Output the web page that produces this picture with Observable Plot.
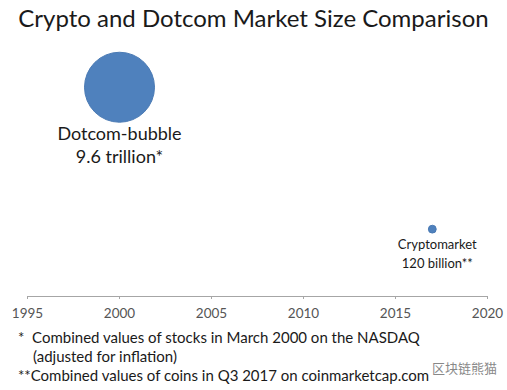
<!DOCTYPE html>
<html><head><meta charset="utf-8">
<script src="https://cdn.jsdelivr.net/npm/d3@7"></script>
<script src="https://cdn.jsdelivr.net/npm/@observablehq/plot@0.6"></script>
<style>
body{margin:0;background:#fff;width:507px;height:390px;overflow:hidden;position:relative;font-family:Lato,"Open Sans",sans-serif;color:#1a1a1a}
#title{height:36px;line-height:36px;text-align:center;font-size:24px;color:#1a1a1a;letter-spacing:0}
#notes{position:absolute;left:0;top:328px;font-size:15px;line-height:19px;color:#1a1a1a}
#notes div{padding-left:33px;text-indent:-15px}
#wm{position:absolute;left:432px;top:358px;font-family:"Noto Sans CJK SC";font-size:13px;color:#888}
</style></head><body>
<div id="title">Crypto and Dotcom Market Size Comparison</div>
<div id="chart"></div>
<div id="notes">
<div>*&nbsp;&nbsp;Combined values of stocks in March 2000 on the NASDAQ<br>(adjusted for inflation)</div>
<div style="text-indent:-15px">**Combined values of coins in Q3 2017 on coinmarketcap.com</div>
</div>
<div id="wm">区块链熊猫</div>
<script>
const names = ["Dotcom-bubble", "Cryptomarket"];
const years = [2000, 2017];
const valuesBillion = [9600, 120];
const valueLabels = ["9.6 trillion*", "120 billion**"];
const xTicks = [1995, 2000, 2005, 2010, 2015, 2020];

const data = names.map((n, i) => ({name: n, year: years[i], value: valuesBillion[i], label: n + "\n" + valueLabels[i]}));
const yMin = 15;

const chart = Plot.plot({
  width: 507, height: 290,
  marginLeft: 27, marginRight: 20, marginTop: 0, marginBottom: 30,
  x: {domain: [1995, 2020], ticks: xTicks, tickFormat: d => String(d)},
  y: {type: "log", domain: [yMin, 46000], axis: null},
  r: {domain: [0, 9600], range: [0, 35]},
  style: {fontFamily: "Lato, 'Open Sans', sans-serif", background: "#fff"},
  marks: [
    Plot.ruleY([yMin], {stroke: "#a6a6a6", strokeWidth: 1.2}),
    Plot.axisX({ticks: xTicks, tickFormat: d => String(d), tickSize: 3, tickPadding: 9, fontSize: 13.5, stroke: "#a6a6a6", color: "#555", label: null}),
    Plot.dot(data, {x: "year", y: "value", r: "value", fill: "#4f81bd", stroke: "#4a7ab4", strokeWidth: 1}),
    Plot.text(data.filter(d => d.value > 1000), {x: "year", y: "value", text: "label", dy: 57, fontSize: 18, lineHeight: 1.25, fill: "#1a1a1a"}),
    Plot.text(data.filter(d => d.value <= 1000), {x: "year", y: "value", text: "label", dy: 23, dx: 5, fontSize: 13, lineHeight: 1.45, fill: "#1a1a1a"})
  ]
});
document.getElementById("chart").append(chart);
</script>
</body></html>
